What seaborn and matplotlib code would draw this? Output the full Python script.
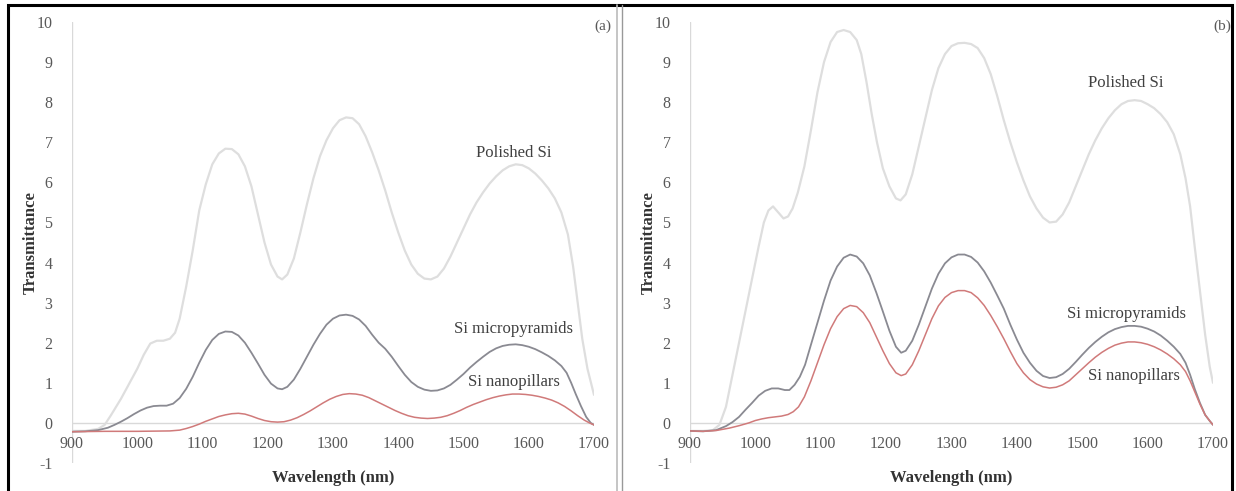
import matplotlib
matplotlib.use("Agg")
import matplotlib.pyplot as plt
import seaborn as sns
import pandas as pd
from matplotlib.patches import Rectangle
from matplotlib.lines import Line2D

sns.set_theme(style="white")
plt.rcParams['font.family'] = ['Liberation Serif', 'DejaVu Serif']

# ---------------- data ----------------
# Panel (a)
a_pol_x = [900, 920, 940, 950, 960, 975, 990, 1000, 1010, 1020, 1030, 1040, 1050, 1058, 1065, 1075, 1085, 1095,
           1105, 1115, 1125, 1135, 1145, 1155, 1165, 1175, 1185, 1195, 1205, 1215, 1222, 1230, 1240, 1250,
           1260, 1270, 1280, 1290, 1300, 1310, 1320, 1330, 1340, 1350, 1360, 1370, 1380, 1390, 1400, 1410,
           1420, 1430, 1440, 1450, 1460, 1470, 1480, 1490, 1500, 1510, 1520, 1530, 1540, 1550, 1560, 1570,
           1580, 1590, 1600, 1610, 1620, 1630, 1640, 1650, 1660, 1668, 1675, 1682, 1690, 1700]
a_pol_y = [-0.2, -0.2, -0.15, -0.05, 0.2, 0.6, 1.05, 1.35, 1.7, 1.98, 2.05, 2.05, 2.1, 2.25, 2.6, 3.4, 4.3, 5.3,
           5.95, 6.45, 6.72, 6.84, 6.83, 6.7, 6.4, 5.9, 5.2, 4.5, 3.95, 3.65, 3.58, 3.7, 4.1, 4.75,
           5.45, 6.1, 6.65, 7.05, 7.35, 7.55, 7.62, 7.6, 7.45, 7.15, 6.75, 6.3, 5.8, 5.25, 4.75, 4.3,
           3.95, 3.72, 3.6, 3.58, 3.65, 3.85, 4.15, 4.5, 4.85, 5.2, 5.5, 5.75, 5.97, 6.15, 6.3, 6.4,
           6.45, 6.43, 6.35, 6.22, 6.05, 5.85, 5.6, 5.25, 4.7, 3.9, 3.0, 2.1, 1.35, 0.7]

a_mic_x = [900, 920, 940, 955, 965, 975, 985, 995, 1005, 1015, 1025, 1035, 1045, 1055, 1065, 1075, 1085, 1095,
           1105, 1115, 1125, 1135, 1145, 1155, 1165, 1175, 1185, 1195, 1205, 1215, 1222, 1230, 1240, 1250,
           1260, 1270, 1280, 1290, 1300, 1310, 1320, 1330, 1340, 1350, 1360, 1370, 1380, 1390, 1400, 1410,
           1420, 1430, 1440, 1450, 1460, 1470, 1480, 1490, 1500, 1510, 1520, 1530, 1540, 1550, 1560, 1570,
           1580, 1590, 1600, 1610, 1620, 1630, 1640, 1650, 1658, 1665, 1672, 1680, 1688, 1695, 1700]
a_mic_y = [-0.22, -0.21, -0.18, -0.12, -0.05, 0.03, 0.12, 0.22, 0.31, 0.38, 0.42, 0.43, 0.43, 0.48, 0.62, 0.85,
           1.15, 1.5, 1.82, 2.07, 2.22, 2.28, 2.27, 2.18, 2.0, 1.75, 1.48, 1.2, 0.98, 0.86, 0.84, 0.9, 1.08,
           1.35, 1.65, 1.95, 2.22, 2.45, 2.6, 2.68, 2.7, 2.67, 2.58, 2.42, 2.2, 2.0, 1.85, 1.65, 1.42, 1.2,
           1.02, 0.9, 0.83, 0.8, 0.81, 0.86, 0.95, 1.08, 1.22, 1.38, 1.52, 1.65, 1.77, 1.86, 1.92, 1.95,
           1.96, 1.94, 1.9, 1.84, 1.76, 1.67, 1.56, 1.42, 1.25, 1.0, 0.72, 0.42, 0.15, 0.0, -0.05]

a_nan_x = [900, 950, 1000, 1050, 1065, 1075, 1085, 1095, 1105, 1115, 1125, 1135, 1145, 1155, 1165, 1175, 1185,
           1195, 1205, 1215, 1225, 1235, 1245, 1255, 1265, 1275, 1285, 1295, 1305, 1315, 1325, 1335, 1345,
           1355, 1365, 1375, 1385, 1395, 1405, 1415, 1425, 1435, 1445, 1455, 1465, 1475, 1485, 1495, 1505,
           1515, 1525, 1535, 1545, 1555, 1565, 1575, 1585, 1595, 1605, 1615, 1625, 1635, 1645, 1655, 1665,
           1675, 1685, 1693, 1700]
a_nan_y = [-0.22, -0.21, -0.21, -0.2, -0.18, -0.14, -0.09, -0.03, 0.04, 0.1, 0.16, 0.2, 0.23, 0.24, 0.22, 0.17,
           0.11, 0.06, 0.03, 0.02, 0.03, 0.07, 0.13, 0.21, 0.3, 0.4, 0.5, 0.59, 0.66, 0.71, 0.73, 0.72, 0.69,
           0.63, 0.55, 0.47, 0.39, 0.31, 0.24, 0.18, 0.14, 0.12, 0.11, 0.12, 0.14, 0.18, 0.24, 0.31, 0.39,
           0.46, 0.52, 0.58, 0.63, 0.67, 0.7, 0.72, 0.72, 0.71, 0.69, 0.66, 0.62, 0.57, 0.5, 0.41, 0.3,
           0.18, 0.07, 0.0, -0.05]

# Panel (b)
b_pol_x = [900, 920, 935, 945, 955, 965, 975, 985, 995, 1005, 1013, 1020, 1027, 1035, 1043, 1050, 1057, 1065,
           1075, 1085, 1095, 1105, 1115, 1125, 1135, 1145, 1155, 1162, 1170, 1178, 1186, 1195, 1205, 1215,
           1222, 1230, 1240, 1250, 1260, 1270, 1280, 1290, 1300, 1310, 1320, 1330, 1340, 1350, 1360, 1370,
           1380, 1390, 1400, 1410, 1420, 1430, 1440, 1450, 1460, 1470, 1480, 1490, 1500, 1510, 1520, 1530,
           1540, 1550, 1560, 1570, 1580, 1590, 1600, 1610, 1620, 1630, 1640, 1650, 1658, 1665, 1672, 1680,
           1688, 1695, 1700]
b_pol_y = [-0.2, -0.2, -0.18, -0.05, 0.4, 1.2, 2.0, 2.8, 3.6, 4.4, 5.0, 5.3, 5.4, 5.25, 5.1, 5.15, 5.35, 5.75,
           6.4, 7.3, 8.25, 9.0, 9.5, 9.75, 9.8, 9.75, 9.55, 9.2, 8.5, 7.7, 7.0, 6.35, 5.9, 5.6,
           5.55, 5.7, 6.2, 6.9, 7.6, 8.3, 8.85, 9.2, 9.4, 9.47, 9.48, 9.45, 9.35, 9.1, 8.7, 8.15,
           7.55, 7.0, 6.5, 6.05, 5.65, 5.35, 5.12, 5.0, 5.02, 5.2, 5.5, 5.9, 6.3, 6.7, 7.05, 7.35,
           7.6, 7.8, 7.95, 8.03, 8.05, 8.03, 7.95, 7.85, 7.7, 7.5, 7.2, 6.7, 6.1, 5.4, 4.4, 3.3,
           2.2, 1.4, 1.0]

b_mic_x = [900, 920, 940, 955, 965, 975, 985, 995, 1005, 1015, 1025, 1035, 1045, 1052, 1060, 1068, 1076, 1085,
           1095, 1105, 1115, 1125, 1135, 1145, 1155, 1165, 1175, 1185, 1195, 1205, 1215, 1223, 1230, 1240,
           1250, 1260, 1270, 1280, 1290, 1300, 1310, 1320, 1330, 1340, 1350, 1360, 1370, 1380, 1390, 1400,
           1410, 1420, 1430, 1440, 1450, 1460, 1470, 1480, 1490, 1500, 1510, 1520, 1530, 1540, 1550, 1560,
           1570, 1580, 1590, 1600, 1610, 1620, 1630, 1640, 1650, 1658, 1665, 1672, 1680, 1688, 1695, 1700]
b_mic_y = [-0.2, -0.21, -0.18, -0.08, 0.02, 0.15, 0.33, 0.5, 0.68, 0.8, 0.86, 0.86, 0.82, 0.82, 0.95, 1.15, 1.45,
           1.95, 2.5, 3.05, 3.55, 3.9, 4.12, 4.2, 4.15, 3.98, 3.68, 3.25, 2.78, 2.3, 1.9, 1.75, 1.8, 2.05,
           2.45, 2.9, 3.35, 3.72, 3.98, 4.13, 4.2, 4.2, 4.14, 4.0, 3.78, 3.5, 3.18, 2.85, 2.45, 2.08,
           1.75, 1.5, 1.3, 1.17, 1.12, 1.14, 1.22, 1.35, 1.52, 1.7, 1.87, 2.02, 2.15, 2.26, 2.34, 2.39,
           2.42, 2.42, 2.4, 2.35, 2.28, 2.18, 2.05, 1.9, 1.72, 1.5, 1.2, 0.85, 0.5, 0.2, 0.05, -0.05]

b_nan_x = [900, 920, 940, 960, 975, 990, 1000, 1010, 1020, 1030, 1040, 1050, 1058, 1066, 1075, 1085, 1095,
           1105, 1115, 1125, 1135, 1145, 1155, 1165, 1175, 1185, 1195, 1205, 1215, 1223, 1230, 1240, 1250,
           1260, 1270, 1280, 1290, 1300, 1310, 1320, 1330, 1340, 1350, 1360, 1370, 1380, 1390, 1400, 1410,
           1420, 1430, 1440, 1450, 1460, 1470, 1480, 1490, 1500, 1510, 1520, 1530, 1540, 1550, 1560, 1570,
           1580, 1590, 1600, 1610, 1620, 1630, 1640, 1650, 1658, 1665, 1672, 1680, 1688, 1695, 1700]
b_nan_y = [-0.2, -0.21, -0.19, -0.13, -0.07, 0.0, 0.06, 0.1, 0.13, 0.15, 0.17, 0.21, 0.28, 0.4, 0.65, 1.05, 1.5,
           1.95, 2.35, 2.65, 2.85, 2.93, 2.9, 2.75, 2.5, 2.15, 1.8, 1.48, 1.25, 1.18, 1.22, 1.45, 1.8,
           2.2, 2.6, 2.92, 3.13, 3.25, 3.3, 3.3, 3.25, 3.12, 2.93, 2.68, 2.4, 2.1, 1.78, 1.48, 1.25,
           1.08, 0.97, 0.9, 0.87, 0.89, 0.95, 1.05, 1.2, 1.35, 1.5, 1.64, 1.76, 1.86, 1.94, 1.99, 2.02,
           2.02, 2.0, 1.96, 1.9, 1.82, 1.72, 1.6, 1.45, 1.28, 1.05, 0.78, 0.47, 0.2, 0.05, -0.05]

series_names = ["Polished Si", "Si micropyramids", "Si nanopillars"]
x_ticks = [900, 1000, 1100, 1200, 1300, 1400, 1500, 1600, 1700]
y_ticks = [-1, 0, 1, 2, 3, 4, 5, 6, 7, 8, 9, 10]
panel_tags = ["(a)", "(b)"]

panels = [
    [(a_pol_x, a_pol_y), (a_mic_x, a_mic_y), (a_nan_x, a_nan_y)],
    [(b_pol_x, b_pol_y), (b_mic_x, b_mic_y), (b_nan_x, b_nan_y)],
]
label_pos = [
    [(1577, 6.74), (1577, 2.34), (1577, 1.02)],
    [(1567, 8.48), (1567, 2.71), (1579, 1.17)],
]
colors = ["#dedede", "#8a8a92", "#d07a7a"]
widths = [1.6, 1.3, 1.1]

# ---------------- figure ----------------
W, H = 1236, 491
fig = plt.figure(figsize=(W / 100, H / 100), dpi=100)

fig.patches.append(Rectangle((8 / W, -0.05), (1232 - 8) / W, (H - 5) / H + 0.05,
                             transform=fig.transFigure, fill=False, edgecolor="black", linewidth=2.2))
fig.lines.append(Line2D([617 / W, 617 / W], [0, (H - 5) / H], transform=fig.transFigure,
                        color="#bbbbbb", linewidth=1.2))
fig.lines.append(Line2D([622 / W, 622 / W], [0, (H - 5) / H], transform=fig.transFigure,
                        color="#999999", linewidth=1.0))

ax_left = [72, 690]
ax_right = [594, 1213]
y_top, y_bot = 22, 463

for i in range(2):
    ax = fig.add_axes([ax_left[i] / W, (H - y_bot) / H, (ax_right[i] - ax_left[i]) / W, (y_bot - y_top) / H])
    for (xs, ys), name, c, lw in zip(panels[i], series_names, colors, widths):
        df = pd.DataFrame({"Wavelength": xs, "T": ys})
        sns.lineplot(data=df, x="Wavelength", y="T", ax=ax, color=c, linewidth=lw, legend=False)
    ax.set_xlim(900, 1700)
    ax.set_ylim(-1, 10)
    for s in ["top", "right", "left", "bottom"]:
        ax.spines[s].set_visible(False)
    ax.axvline(900, color="#d9d9d9", linewidth=1.0, zorder=0)
    ax.axhline(0, color="#d9d9d9", linewidth=1.0, zorder=0)
    ax.set_xticks(x_ticks)
    ax.set_yticks(y_ticks)
    ax.set_xticklabels([])
    ax.set_yticklabels([str(v) for v in y_ticks], fontsize=11.5, color="#595959")
    ax.tick_params(axis="x", length=0, pad=0)
    ax.tick_params(axis="y", length=0, pad=14)
    for v in x_ticks:
        ax.text(v, -0.52, str(v), ha="center", va="center", fontsize=11.5, color="#595959")
    ax.set_xlabel("")
    ax.set_ylabel("")
    ax.text(0.5, -0.034, "Wavelength (nm)", transform=ax.transAxes, ha="center", va="center",
            fontsize=12, fontweight="bold", color="#333333")
    ax.text(-0.079, 0.5, "Transmittance", transform=ax.transAxes, ha="center", va="center",
            rotation=90, fontsize=12, fontweight="bold", color="#333333")
    ax.text(1.017, 0.99, panel_tags[i], transform=ax.transAxes, ha="center", va="center",
            fontsize=11, color="#595959", clip_on=False)
    for name, (lx, ly) in zip(series_names, label_pos[i]):
        ax.text(lx, ly, name, ha="center", va="center", fontsize=12, color="#404040")

fig.savefig("out.png", dpi=100)
